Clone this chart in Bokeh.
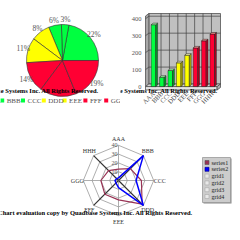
import math
import numpy as np
from bokeh.plotting import figure
from bokeh.models import Range1d, FixedTicker, LinearAxis, Label
from bokeh.layouts import column, row
from bokeh.embed import file_html
from bokeh.resources import INLINE
from bokeh.core.properties import value

# ---------------- data ----------------
categories = ["AAA", "BBB", "CCC", "DDD", "EEE", "FFF", "GGG", "HHH"]
bar_values = [365, 55, 95, 140, 185, 228, 270, 310]
slice_colors = ["#00FF40", "#00FF40", "#00FF40", "#FFFF00", "#FFFF00", "#FF0033", "#FF0033", "#FF0033"]
top_colors = ["#A0FFA8", "#A0FFA8", "#A0FFA8", "#FFFFB0", "#FFFFB0", "#FF9090", "#FF9090", "#FF9090"]
side_colors = ["#00A028", "#00A028", "#00A028", "#B0B000", "#B0B000", "#B00020", "#B00020", "#B00020"]
y_ticks = [0, 100, 200, 300, 400]
radar_levels = [10, 20, 30, 40]
series1 = [13, 19, 26, 38, 22, 22, 20, 16]
series2 = [3, 40, 20, 40, 8, 4, 4, 3]
legend_names = ["series1", "series2", "grid1", "grid2", "grid3", "grid4"]
legend_colors = ["#993355", "#0000FF", "#E8E8E8", "#E8E8E8", "#E8E8E8", "#E8E8E8"]
watermark = "EspressChart evaluation copy by Quadbase Systems Inc. All Rights Reserved."

SERIF = value("Liberation Serif")
SERIF_NAME = "Liberation Serif"
WM_SIZE = "6.5px"

# ---------------- pie ----------------
PW, PH = 120, 112
pie = figure(width=PW, height=PH, x_range=Range1d(0, PW), y_range=Range1d(0, PH),
             output_backend="svg", toolbar_location=None, x_axis_type=None, y_axis_type=None,
             min_border=0)
pie.outline_line_color = None
pie.grid.visible = False
cx, cy, R = 62, PH - 60, 36
total = float(sum(bar_values))
frac = np.array(bar_values) / total
ends = np.cumsum(frac) * 2 * math.pi
starts = ends - frac * 2 * math.pi
pie.wedge(x=[cx] * 8, y=[cy] * 8, radius=R, start_angle=list(starts), end_angle=list(ends),
          fill_color=slice_colors, line_color="#303030", line_width=0.6)
mids = (starts + ends) / 2
lx = cx + 41 * np.cos(mids)
ly = cy + 41 * np.sin(mids)
pie.text(x=list(lx), y=list(ly), text=[f"{round(f * 100)}%" for f in frac],
         text_font=SERIF, text_font_size="7.5px", text_color="#555555",
         text_align="center", text_baseline="middle")
pie.quad(left=0, right=PW, bottom=PH - 104, top=PH - 96.5, fill_color="white", line_color=None)
lg_x = [1.7 + 20.8 * (k - 1) for k in range(len(categories))]
pie.rect(x=lg_x, y=[PH - 100] * 8, width=4, height=4, fill_color=slice_colors, line_color=None)
pie.text(x=[v + 4.5 for v in lg_x], y=[PH - 100] * 8, text=categories, text_font=SERIF,
         text_font_size="7px", text_color="#555555", text_align="left", text_baseline="middle")
pie.add_layout(Label(x=98, y=PH - 90, text=watermark, text_align="right", text_baseline="middle",
                     text_font=SERIF_NAME, text_font_size=WM_SIZE, text_color="black", text_font_style="bold"))

# ---------------- 3D bar ----------------
BW, BH = 120, 112
FL, FR, FT, FB = 25, 20, 13, 21          # plot box inside the 120x112 panel
X0, X1E = -0.95, 7.98
Y0, Y1E = -29, 431
sx = (X1E - X0) / (BW - FL - FR)
sy = (Y1E - Y0) / (BH - FT - FB)
bar = figure(width=BW, height=BH,
             x_range=Range1d(X0 - FL * sx, X1E + FR * sx),
             y_range=Range1d(Y0 - FB * sy, Y1E + FT * sy),
             output_backend="svg", toolbar_location=None, x_axis_type=None, y_axis_type=None,
             min_border=0)
bar.outline_line_color = None
bar.grid.visible = False
DX, DY = 0.4, 15
X1 = X1E - DX
TOP = Y1E
GRID = "#404040"
bar.quad(left=X0 + DX, right=X1E, bottom=DY, top=TOP, fill_color="#C0C0C0", line_color=GRID, line_width=0.7)
bar.patch(x=[X0, X0 + DX, X0 + DX, X0], y=[0, DY, TOP, TOP - DY], fill_color="#A8A8A8",
          line_color=GRID, line_width=0.7)
bar.patch(x=[X0, X1, X1E, X0 + DX], y=[0, 0, DY, DY], fill_color="#D4D4D4", line_color=GRID, line_width=0.7)
bar.quad(left=X0, right=X1, bottom=-20, top=0, fill_color="#E4E4E4", line_color=GRID, line_width=0.7)
bar.patch(x=[X1, X1, X1E, X1E], y=[-20, 0, DY, DY - 20], fill_color="#B0B0B0", line_color=GRID, line_width=0.7)
for t in y_ticks[1:]:
    bar.line(x=[X0 + DX, X1E], y=[t + DY, t + DY], line_color=GRID, line_width=0.7)
    bar.line(x=[X0, X0 + DX], y=[t, t + DY], line_color=GRID, line_width=0.7)
for k in range(len(categories) - 1):
    bar.line(x=[k + 0.5 + DX, k + 0.5 + DX], y=[DY, TOP], line_color=GRID, line_width=0.7)
hw, BDX, BDY = 0.27, 0.22, 9
xs = list(range(len(categories)))
bar.quad(left=[x - hw for x in xs], right=[x + hw for x in xs], bottom=0, top=bar_values,
         fill_color=slice_colors, line_color="#202020", line_width=0.5)
bar.patches(xs=[[x + hw, x + hw, x + hw + BDX, x + hw + BDX] for x in xs],
            ys=[[0, v, v + BDY, BDY] for v in bar_values],
            fill_color=side_colors, line_color="#202020", line_width=0.5)
bar.patches(xs=[[x - hw, x + hw, x + hw + BDX, x - hw + BDX] for x in xs],
            ys=[[v, v, v + BDY, v + BDY] for v in bar_values],
            fill_color=top_colors, line_color="#202020", line_width=0.5)
yax = LinearAxis(ticker=FixedTicker(ticks=y_ticks), fixed_location=X0)
yax.axis_line_color = None
yax.major_tick_line_color = None
yax.minor_tick_line_color = None
yax.major_tick_out = 0
yax.major_label_standoff = 4
yax.major_label_text_font = SERIF_NAME
yax.major_label_text_font_size = "6.5px"
yax.major_label_text_color = "#555555"
bar.add_layout(yax, "left")
xax = LinearAxis(ticker=FixedTicker(ticks=xs), fixed_location=Y0,
                 major_label_overrides={i: c for i, c in enumerate(categories)})
xax.axis_line_color = None
xax.major_tick_line_color = None
xax.minor_tick_line_color = None
xax.major_tick_out = 0
xax.major_label_standoff = 1
xax.major_label_orientation = math.pi / 4
xax.major_label_text_font = SERIF_NAME
xax.major_label_text_font_size = "6.5px"
xax.major_label_text_color = "#444444"
bar.add_layout(xax, "below")
bar.add_layout(Label(x=X0 - FL * sx + 97 * sx, y=Y1E + FT * sy - 90 * sy, text=watermark,
                     text_align="right", text_baseline="middle", text_font=SERIF_NAME,
                     text_font_size=WM_SIZE, text_color="black", text_font_style="bold"))

# ---------------- radar ----------------
RW, RH = 240, 128
rad = figure(width=RW, height=RH, x_range=Range1d(0, RW), y_range=Range1d(0, RH),
             output_backend="svg", toolbar_location=None, x_axis_type=None, y_axis_type=None,
             min_border=0)
rad.outline_line_color = None
rad.grid.visible = False
rcx, rcy, unit = 118, 60, 0.88
n = len(categories)
ang = [math.pi / 2 - k * 2 * math.pi / n for k in range(n)]
for L in radar_levels:
    rr = L * unit
    rad.line(x=[rcx + rr * math.cos(a) for a in ang + ang[:1]],
             y=[rcy + rr * math.sin(a) for a in ang + ang[:1]], line_color="#999999", line_width=0.8)
rmax = radar_levels[-1] * unit
axis_colors = ["#999999" if k % 2 == 0 else "#333333" for k in range(n)]
rad.multi_line(xs=[[rcx, rcx + rmax * math.cos(a)] for a in ang],
               ys=[[rcy, rcy + rmax * math.sin(a)] for a in ang], line_color=axis_colors,
               line_width=[0.8 if k % 2 == 0 else 1.2 for k in range(n)])
rad.text(x=[rcx + (rmax + 6) * math.cos(a) for a in ang], y=[rcy + (rmax + 6) * math.sin(a) for a in ang],
         text=categories, text_font=SERIF, text_font_size="6px", text_color="#333333",
         text_align="center", text_baseline="middle")
rad.text(x=[rcx - 1] * len(radar_levels), y=[rcy + L * unit for L in radar_levels],
         text=[str(L) for L in radar_levels], text_font=SERIF, text_font_size="6px",
         text_color="#555555", text_align="right", text_baseline="middle")
for ser, col, lw in [(series1, "#993355", 1.2), (series2, "#0000FF", 1.5)]:
    rad.line(x=[rcx + v * unit * math.cos(a) for v, a in zip(ser + ser[:1], ang + ang[:1])],
             y=[rcy + v * unit * math.sin(a) for v, a in zip(ser + ser[:1], ang + ang[:1])],
             line_color=col, line_width=lw)
rad.add_layout(Label(x=192, y=RH - (212 - 112), text=watermark, text_align="right",
                     text_baseline="middle", text_font=SERIF_NAME, text_font_size=WM_SIZE,
                     text_color="black", text_font_style="bold"))
rad.quad(left=203, right=231, bottom=37, top=82, fill_color="#888888", line_color=None)
rad.quad(left=202, right=230, bottom=38, top=83, fill_color="#CCCCCC", line_color="#999999", line_width=0.8)
ly_items = [78 - 6.8 * i for i in range(len(legend_names))]
rad.rect(x=[206.5] * 6, y=ly_items, width=4, height=4, fill_color=legend_colors,
         line_color=["#555555", "#000088", "#AAAAAA", "#AAAAAA", "#AAAAAA", "#AAAAAA"], line_width=0.6)
rad.text(x=[211] * 6, y=ly_items, text=legend_names, text_font=SERIF, text_font_size="6px",
         text_color="#222222", text_align="left", text_baseline="middle")

layout = column(row(pie, bar), rad)
open("out.html", "w").write(file_html(layout, INLINE))
